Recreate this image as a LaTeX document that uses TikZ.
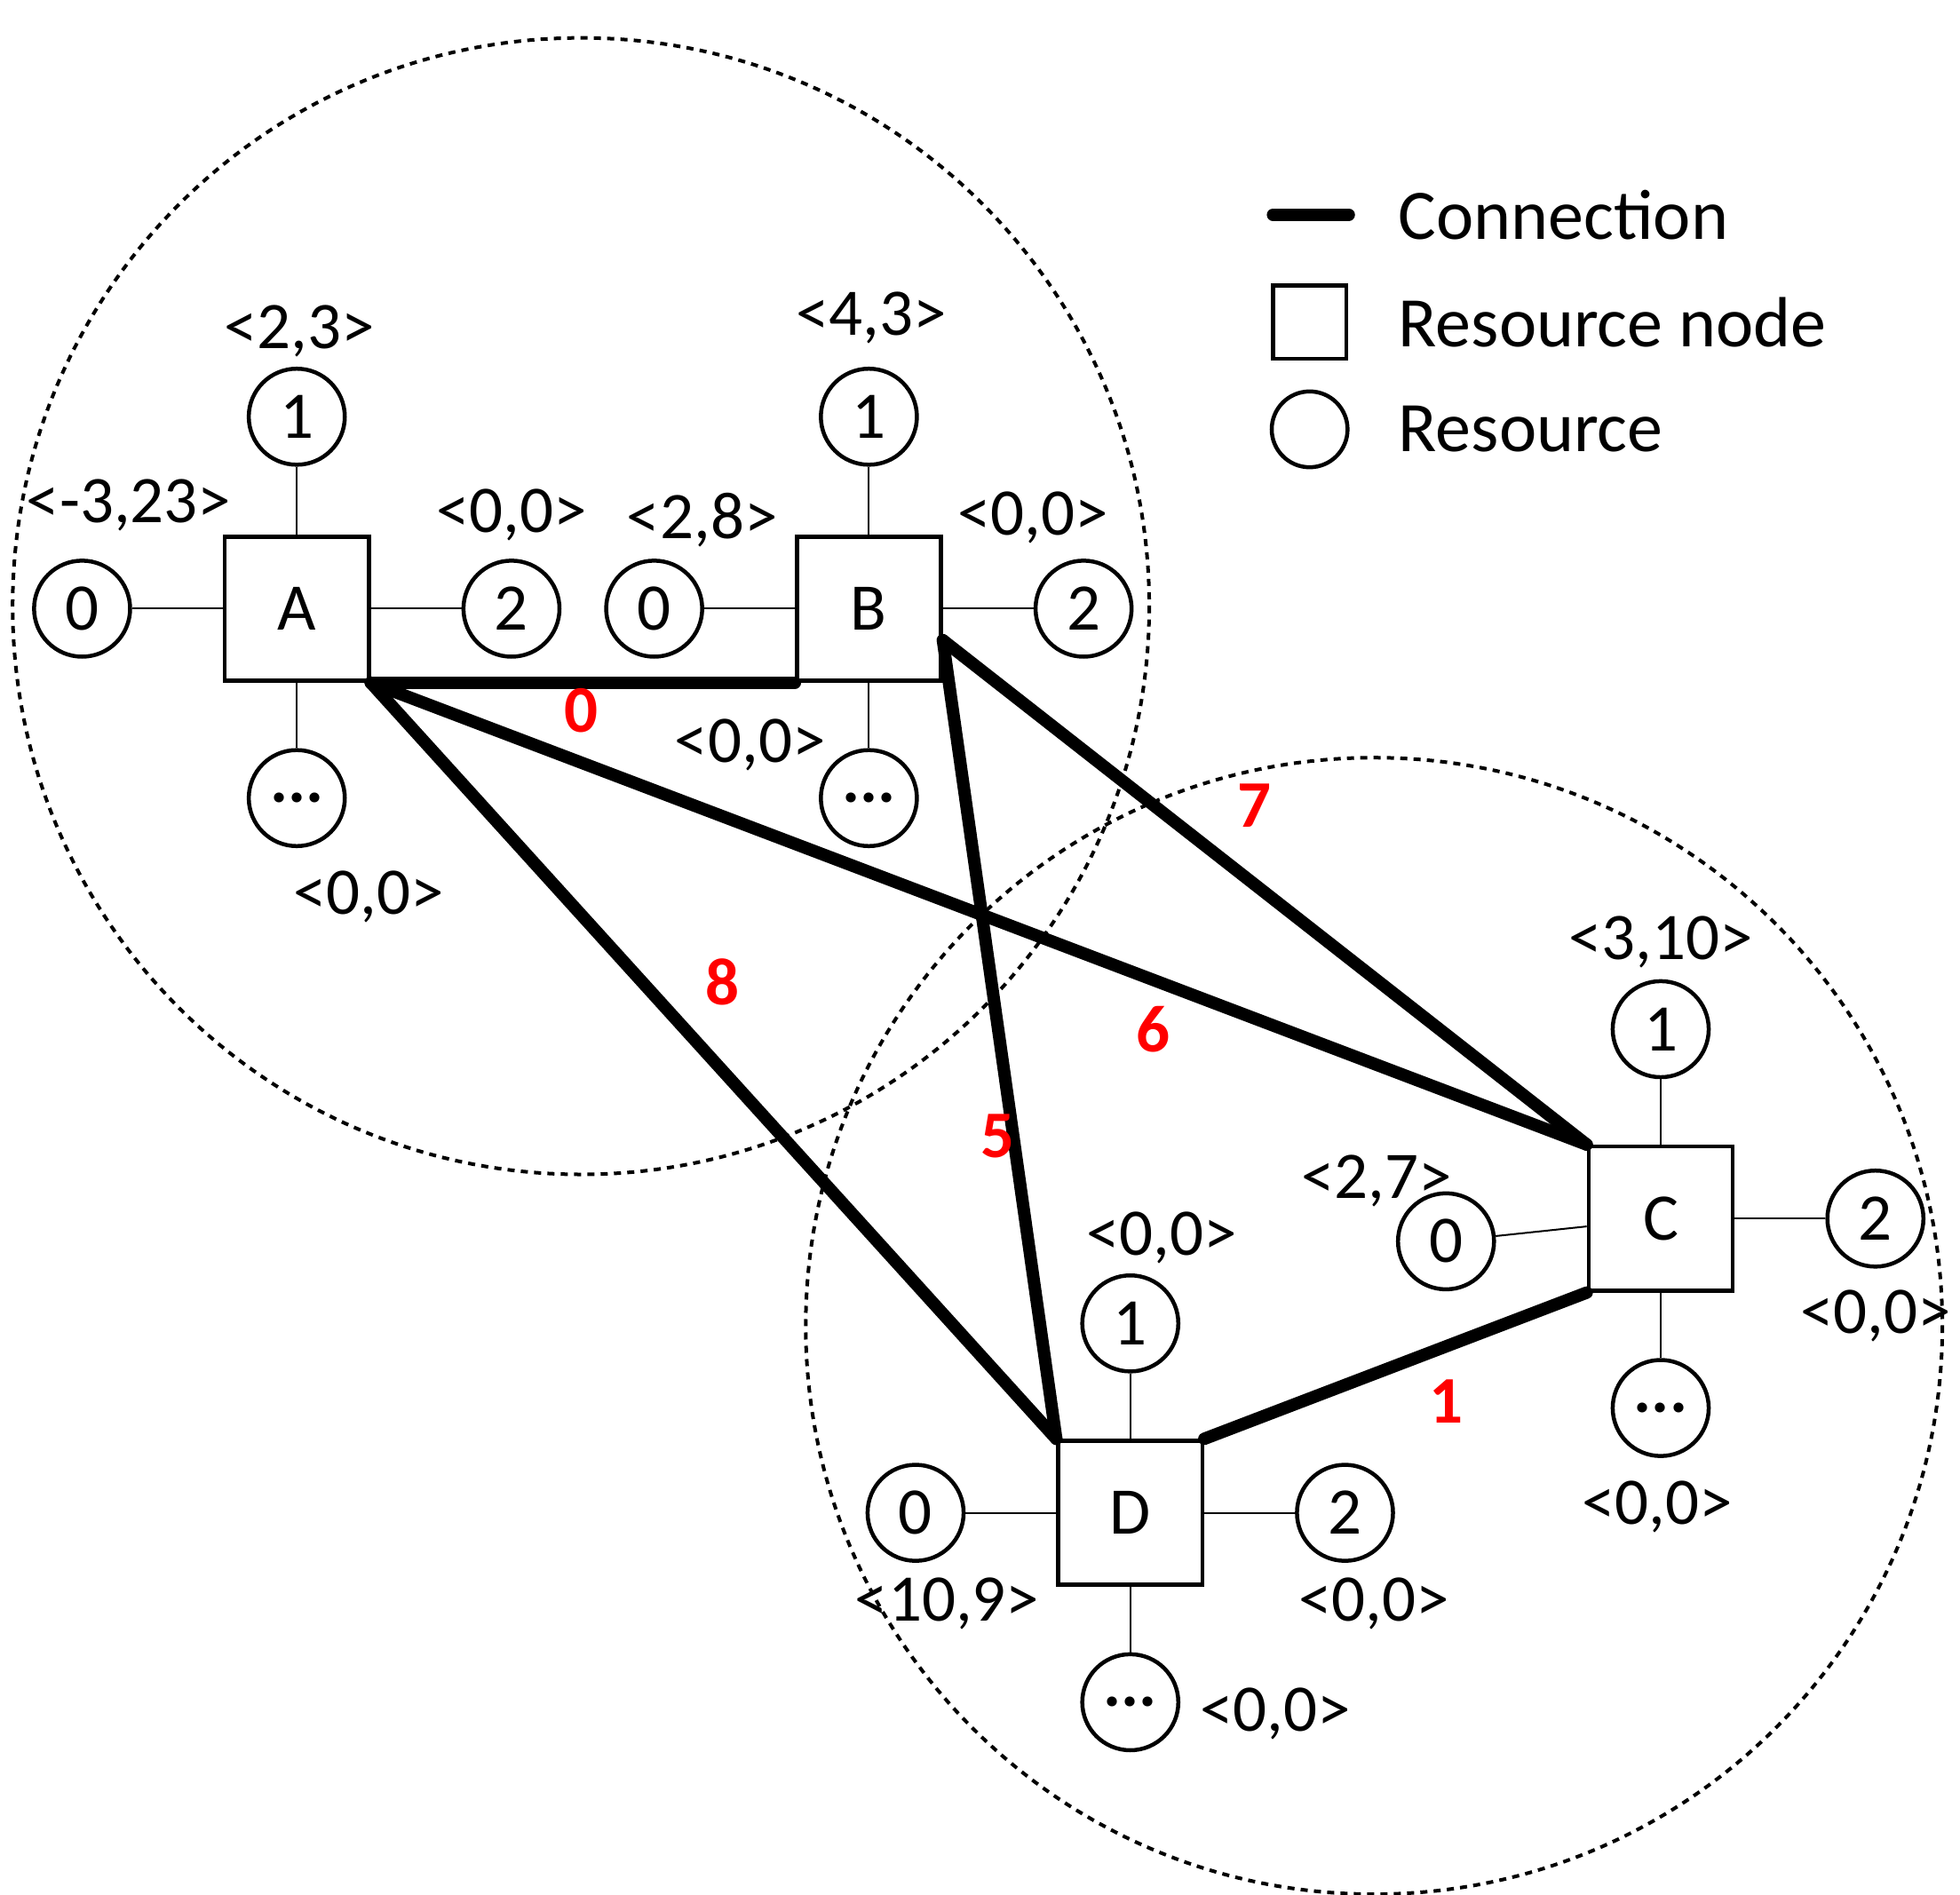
\documentclass[tikz,border=0pt]{standalone}
\usepackage{fontspec}
\setmainfont{Carlito}
\begin{document}
\begin{tikzpicture}[x=0.01cm,y=-0.01cm,
  sq/.style={draw,line width=0.9pt,minimum size=1.14cm,inner sep=0pt,font=\fontsize{15}{15}\selectfont},
  rs/.style={draw,circle,line width=0.9pt,minimum size=0.76cm,inner sep=0pt,font=\fontsize{15}{15}\selectfont},
  lb/.style={font=\fontsize{15}{15}\selectfont,inner sep=0pt},
  cn/.style={line width=2.8pt,line cap=round},
  th/.style={line width=0.4pt},
  wt/.style={text=red,font=\bfseries\fontsize{15}{15}\selectfont},
  zone/.style={dash pattern=on 1.6pt off 1.4pt,line width=0.8pt}]
\useasboundingbox (0,0) rectangle (1552,1500);
\draw[zone] (460,480) circle[radius=450];
\draw[zone] (1088,1050) circle[radius=450];
% nodes
\foreach \n/\x/\y in {A/235/482,B/688/482,C/1315/965,D/895/1198}{
  \node[sq] (\n) at (\x,\y) {\n};}
% resources
\foreach \n/\x/\y/\t in {
 A0/65/482/0,A1/235/330/1,A2/405/482/2,A3/235/632/\textbf{...},
 B0/518/482/0,B1/688/330/1,B2/858/482/2,B3/688/632/\textbf{...},
 C0/1145/983/0,C1/1315/815/1,C2/1485/965/2,C3/1315/1115/\textbf{...},
 D0/725/1198/0,D1/895/1048/1,D2/1065/1198/2,D3/895/1348/\textbf{...}}{
  \node[rs] (\n) at (\x,\y) {\t};}
\foreach \n in {A,B,C,D}{
  \draw[th] (\n0) -- (\n);
  \draw[th] (\n1) -- (\n);
  \draw[th] (\n2) -- (\n);
  \draw[th] (\n3) -- (\n);}
% labels
\foreach \x/\y/\t in {237/262/{<2,3>},102/400/{<-3,23>},405/408/{<0,0>},292/710/{<0,0>},
 690/252/{<4,3>},556/412/{<2,8>},818/410/{<0,0>},594/590/{<0,0>},
 1315/746/{<3,10>},1090/935/{<2,7>},1485/1042/{<0,0>},1312/1193/{<0,0>},
 920/980/{<0,0>},750/1270/{<10,9>},1088/1270/{<0,0>},1010/1357/{<0,0>}}{
  \node[lb] at (\x,\y) {\t};}
% connections
\draw[cn] (A.south east) -- (B.south west);
\draw[cn] (A.south east) -- (C.north west);
\draw[cn] (A.south east) -- (D.north west);
\draw[cn] ([yshift=-0.25cm]B.east) -- (C.north west);
\draw[cn] ([yshift=-0.25cm]B.east) -- (D.north west);
\draw[cn] (D.north east) -- (C.south west);
\node[wt] at (460,563) {0};
\node[wt] at (913,815) {6};
\node[wt] at (572,778) {8};
\node[wt] at (993,638) {7};
\node[wt] at (790,900) {5};
\node[wt] at (1145,1110) {1};
% legend
\coordinate (l1) at (1008,170); \coordinate (l2) at (1068,170);
\draw[cn] (l1) -- (l2);
\node[draw,line width=0.9pt,minimum size=0.58cm,inner sep=0pt] (ls) at (1037,255) {};
\node[draw,circle,line width=0.9pt,minimum size=0.6cm,inner sep=0pt] (lc) at (1037,340) {};
\node[anchor=west,font=\fontsize{16}{16}\selectfont] at (1095,170) {Connection};
\node[anchor=west,font=\fontsize{16}{16}\selectfont] at (1095,255) {Resource node};
\node[anchor=west,font=\fontsize{16}{16}\selectfont] at (1095,340) {Resource};
\end{tikzpicture}
\end{document}
